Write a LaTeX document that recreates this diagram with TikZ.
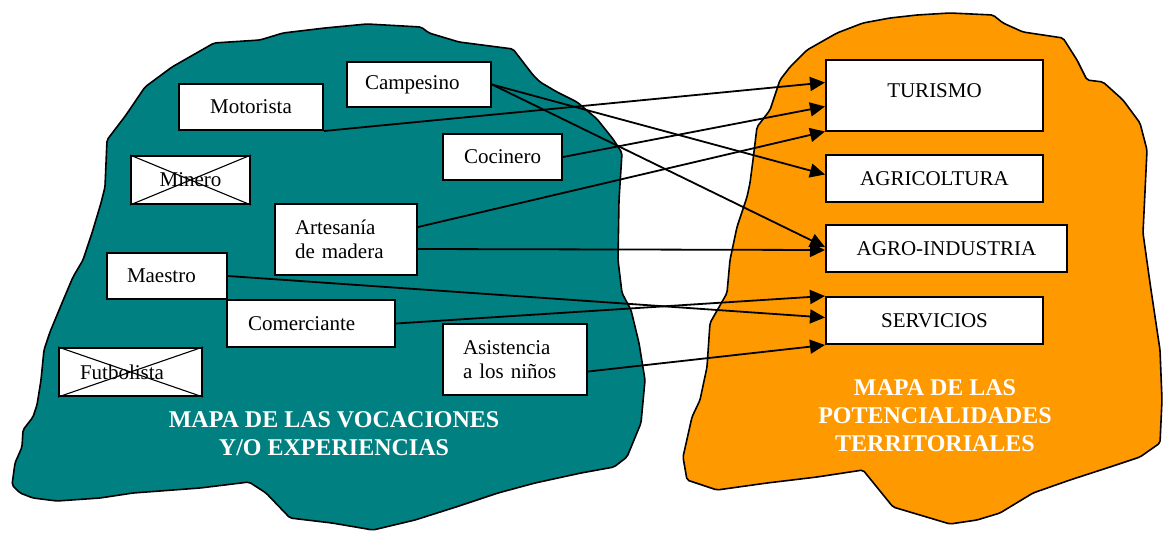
\documentclass[tikz,border=0pt]{standalone}
\usepackage{fontspec}
\setmainfont{Liberation Serif}
\usetikzlibrary{arrows.meta,calc}
\definecolor{tealmap}{RGB}{0,128,128}
\definecolor{orangemap}{RGB}{255,153,0}
\begin{document}
\begin{tikzpicture}[x=1pt,y=-1pt,
  blob/.style={draw=black,line width=1.6pt,rounded corners=2pt},
  box/.style={draw,fill=white,line width=2pt,inner ysep=0pt,font=\fontsize{21}{24}\selectfont},
  cbox/.style={box,inner xsep=0pt,align=center},
  lbox/.style={box,align=left},
  cross/.style={line width=1.1pt},
  conn/.style={line width=1.8pt,-{Triangle[length=15pt,width=14pt]}},
  maptitle/.style={text=white,align=center,font=\fontsize{24}{28}\selectfont\bfseries}]
\useasboundingbox (0,0) rectangle (1163,533);
% left map
\draw[blob,fill=tealmap] (107,140) -- (126,115) -- (145,87) -- (172,67) -- (214,43) -- (260,40) -- (283,33) -- (325,28) -- (367,24) -- (421,27) -- (429,33) -- (459,42) -- (513,49) -- (533,75) -- (540,82) -- (557,92) -- (577,102) -- (597,119) -- (613,139) -- (622,153) -- (619,200) -- (618,260) -- (622,293) -- (631,310) -- (639,343) -- (645,380) -- (641,423) -- (627,457) -- (614,467) -- (581,473) -- (535,483) -- (498,493) -- (456,507) -- (415,520) -- (373,530) -- (332,523) -- (290,518) -- (266,493) -- (249,482) -- (200,488) -- (133,493) -- (100,498) -- (57,501) -- (33,498) -- (20,493) -- (12,485) -- (15,463) -- (22,447) -- (23,430) -- (33,417) -- (37,405) -- (41,380) -- (44,350) -- (50,332) -- (62,303) -- (73,277) -- (83,260) -- (92,233) -- (101,203) -- (105,187) -- cycle;
% right map
\draw[blob,fill=orangemap] (780,80) -- (790,67) -- (807,50) -- (837,33) -- (863,23) -- (890,18) -- (917,15) -- (950,13) -- (993,15) -- (1003,23) -- (1023,32) -- (1063,38) -- (1077,60) -- (1083,72) -- (1087,80) -- (1103,82) -- (1123,100) -- (1140,123) -- (1147,150) -- (1143,233) -- (1150,283) -- (1160,350) -- (1162,400) -- (1160,443) -- (1140,457) -- (1110,467) -- (1070,480) -- (1033,493) -- (1000,513) -- (977,520) -- (950,524) -- (893,507) -- (863,470) -- (817,477) -- (767,483) -- (717,490) -- (687,480) -- (683,457) -- (692,417) -- (700,400) -- (707,367) -- (710,323) -- (727,293) -- (730,260) -- (737,227) -- (747,197) -- (750,183) -- (753,160) -- (757,127) -- (770,110) -- cycle;
% left boxes
\node[lbox,inner xsep=18pt,text width=108pt,minimum height=45pt] (cam) at (419,84.5) {Campesino};
\node[cbox,text width=144pt,minimum height=46pt] (mot) at (251,107) {Motorista};
\node[cbox,text width=119pt,minimum height=46pt] (coc) at (502.5,157) {Cocinero};
\node[cbox,text width=119pt,minimum height=48pt] (min) at (190.5,180) {Minero};
\node[lbox,inner xsep=20pt,text width=102pt,minimum height=71pt] (art) at (346,239.5) {Artesanía\\de madera};
\node[lbox,inner xsep=20pt,text width=80pt,minimum height=46pt] (mae) at (167,276) {Maestro};
\node[lbox,inner xsep=21pt,text width=126pt,minimum height=47pt] (com) at (311,323.5) {Comerciante};
\node[lbox,inner xsep=20pt,text width=104pt,minimum height=71pt] (asi) at (515,359.5) {Asistencia\\a los niños};
\node[lbox,inner xsep=21pt,text width=101pt,minimum height=48pt] (fut) at (130.5,372) {Futbolista};
\draw[cross] (min.north west) -- (min.south east) (min.south west) -- (min.north east);
\draw[cross] (fut.north west) -- (fut.south east) (fut.south west) -- (fut.north east);
% right boxes
\node[cbox,text width=217pt,minimum height=71pt] (tur) at (934.5,95) {\raisebox{8pt}{TURISMO}};
\node[cbox,text width=217pt,minimum height=47pt] (agr) at (934.5,178.5) {AGRICOLTURA};
\node[cbox,text width=241pt,minimum height=47pt] (agi) at (946.5,248.5) {AGRO-INDUSTRIA};
\node[cbox,text width=217pt,minimum height=47pt] (ser) at (934.5,320.5) {SERVICIOS};
% titles
\node[maptitle] (tleft) at (334,434) {MAPA DE LAS VOCACIONES\\Y/O EXPERIENCIAS};
\node[maptitle] (tright) at (935,416) {MAPA DE LAS\\POTENCIALIDADES\\TERRITORIALES};
% connectors
\draw[conn] (mot.south east) -- ($(tur.north west)+(0,24)$);
\draw[conn] (coc.east) -- ($(tur.north west)+(0,48)$);
\draw[conn] ($(art.north east)+(0,24)$) -- (tur.south west);
\draw[conn] ($(art.north east)+(0,46)$) -- ($(agi.west)+(0,1.5)$);
\draw[conn] (cam.east) -- ($(agr.west)+(0,-4)$);
\draw[conn] (cam.east) -- ($(agi.west)+(0,-1.5)$);
\draw[conn] (mae.east) -- ($(ser.west)+(0,-3)$);
\draw[conn] (com.east) -- (ser.north west);
\draw[conn] ($(asi.east)+(0,12)$) -- (ser.south west);
\end{tikzpicture}
\end{document}
